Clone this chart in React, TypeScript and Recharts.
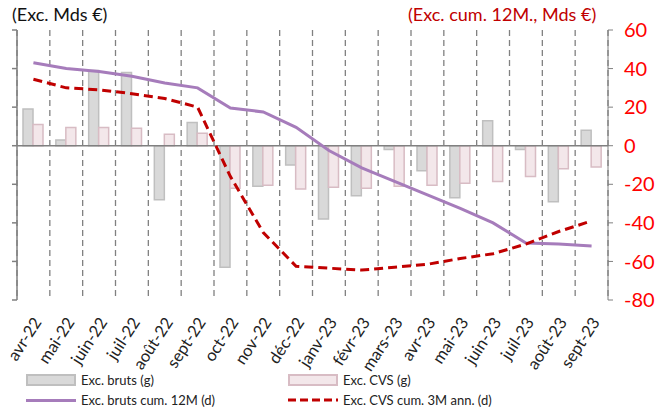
import {
    ComposedChart,
    Bar,
    Line,
    XAxis,
    YAxis,
    CartesianGrid,
    ReferenceLine,
} from "recharts";

const MONTHS = [
    "avr-22", "mai-22", "juin-22", "juil-22", "août-22", "sept-22",
    "oct-22", "nov-22", "déc-22", "janv-23", "févr-23", "mars-23",
    "avr-23", "mai-23", "juin-23", "juil-23", "août-23", "sept-23",
];

// left axis (g)
const EXC_BRUTS = [19, 3, 39, 38, -28, 12, -63, -21, -10, -38, -26, -2, -13, -27, 13, -2, -29, 8];
const EXC_CVS = [11, 9.5, 9.5, 9, 6, 6.5, -22, -20.5, -22.5, -21.5, -22, -21, -20.5, -19.5, -18.5, -16, -12, -11];

// right axis (d)
const BRUTS_CUM_12M = [43, 40, 38.5, 36, 32.5, 30, 19.5, 17.5, 9.5, -2.5, -11.5, -18.5, -25.5, -32.5, -40, -50.5, -51, -52];
const CVS_CUM_3M = [34.5, 30, 29, 27, 24.5, 20, -16, -45, -62.5, -63.5, -64.5, -63, -61.5, -58.5, -56, -51, -44.5, -39];

const TICKS = [-80, -60, -40, -20, 0, 20, 40, 60];

const data = MONTHS.map((m, i) => ({
    mois: m,
    bruts: EXC_BRUTS[i],
    cvs: EXC_CVS[i],
    cum12: BRUTS_CUM_12M[i],
    cum3: CVS_CUM_3M[i],
}));

const FONT = "Lato, 'Open Sans', sans-serif";
const RED = "#c00000";

function MonthTick({ x, y, payload }: any) {
    return (
        <g transform={`translate(${x + 4},${y + 11})`}>
            <text textAnchor="end" transform="rotate(-57)" dy="0.35em"
                fontSize={16.5} fill="#222" fontFamily={FONT}>
                {payload.value}
            </text>
        </g>
    );
}

const legendRow = (swatch: any, label: string) => (
    <div style={{ display: "flex", alignItems: "center", height: 20 }}>
        <div style={{ width: 50, marginRight: 5, display: "flex", alignItems: "center" }}>{swatch}</div>
        <span>{label}</span>
    </div>
);

export default function App() {
    return (
        <div style={{ position: "absolute", left: 0, top: 0, width: 670, height: 415, background: "#fff", fontFamily: FONT }}>
            <div style={{ position: "absolute", left: 12, top: 3, fontSize: 18, color: "#111" }}>(Exc. Mds €)</div>
            <div style={{ position: "absolute", left: 408, top: 3, fontSize: 18, color: RED }}>(Exc. cum. 12M., Mds €)</div>

            <ComposedChart width={670} height={415} data={data}
                margin={{ top: 30, right: 0, bottom: 55, left: 0 }}
                barGap={0} barCategoryGap="30%">
                <CartesianGrid stroke="#808080" strokeWidth={1.3} strokeDasharray="6 4"
                    horizontalValues={TICKS}
                    verticalCoordinatesGenerator={({ offset }: any) =>
                        Array.from({ length: MONTHS.length + 1 }, (_, i) => offset.left + (i * offset.width) / MONTHS.length)
                    } />
                <XAxis dataKey="mois" interval={0} height={60} axisLine={false} tickLine={false}
                    tick={<MonthTick />} />
                <YAxis yAxisId="left" domain={[-80, 60]} ticks={TICKS} width={17}
                    stroke="#808080" strokeWidth={1.5} tickSize={5} tick={() => <g />} />
                <YAxis yAxisId="right" orientation="right" domain={[-80, 60]} ticks={TICKS} width={62}
                    stroke="#808080" tickSize={5} tickMargin={11}
                    tick={{ fill: "#ff0000", fontSize: 20, fontFamily: FONT, textAnchor: "start" }} />
                <ReferenceLine yAxisId="right" y={0} stroke="#808080" strokeWidth={1.5} />
                <Bar yAxisId="left" dataKey="bruts" name="Exc. bruts (g)" barSize={10}
                    fill="#d9d9d9" stroke="#bfbfbf" strokeWidth={1.5} isAnimationActive={false} />
                <Bar yAxisId="left" dataKey="cvs" name="Exc. CVS (g)" barSize={10}
                    fill="#f3e7ea" stroke="#d8bcc4" strokeWidth={1.5} isAnimationActive={false} />
                <Line yAxisId="right" dataKey="cum12" name="Exc. bruts cum. 12M (d)" type="linear"
                    stroke="#a67cbb" strokeWidth={3} dot={false} isAnimationActive={false} />
                <Line yAxisId="right" dataKey="cum3" name="Exc. CVS cum. 3M ann. (d)" type="linear"
                    stroke={RED} strokeWidth={3} strokeDasharray="9 5" dot={false} isAnimationActive={false} />
            </ComposedChart>

            <div style={{ position: "absolute", left: 26, top: 370, width: 640, fontSize: 13, color: "#222",
                display: "grid", gridTemplateColumns: "262px 1fr" }}>
                {legendRow(<div style={{ width: 46, height: 8, background: "#d9d9d9", border: "2px solid #bfbfbf" }} />, "Exc. bruts (g)")}
                {legendRow(<div style={{ width: 46, height: 8, background: "#f3e7ea", border: "2px solid #d8bcc4" }} />, "Exc. CVS (g)")}
                {legendRow(<div style={{ width: 50, height: 3, background: "#a67cbb" }} />, "Exc. bruts cum. 12M (d)")}
                {legendRow(<svg width={50} height={4}><line x1={0} y1={2} x2={50} y2={2} stroke={RED} strokeWidth={3} strokeDasharray="8 4" /></svg>, "Exc. CVS cum. 3M ann. (d)")}
            </div>
        </div>
    );
}
